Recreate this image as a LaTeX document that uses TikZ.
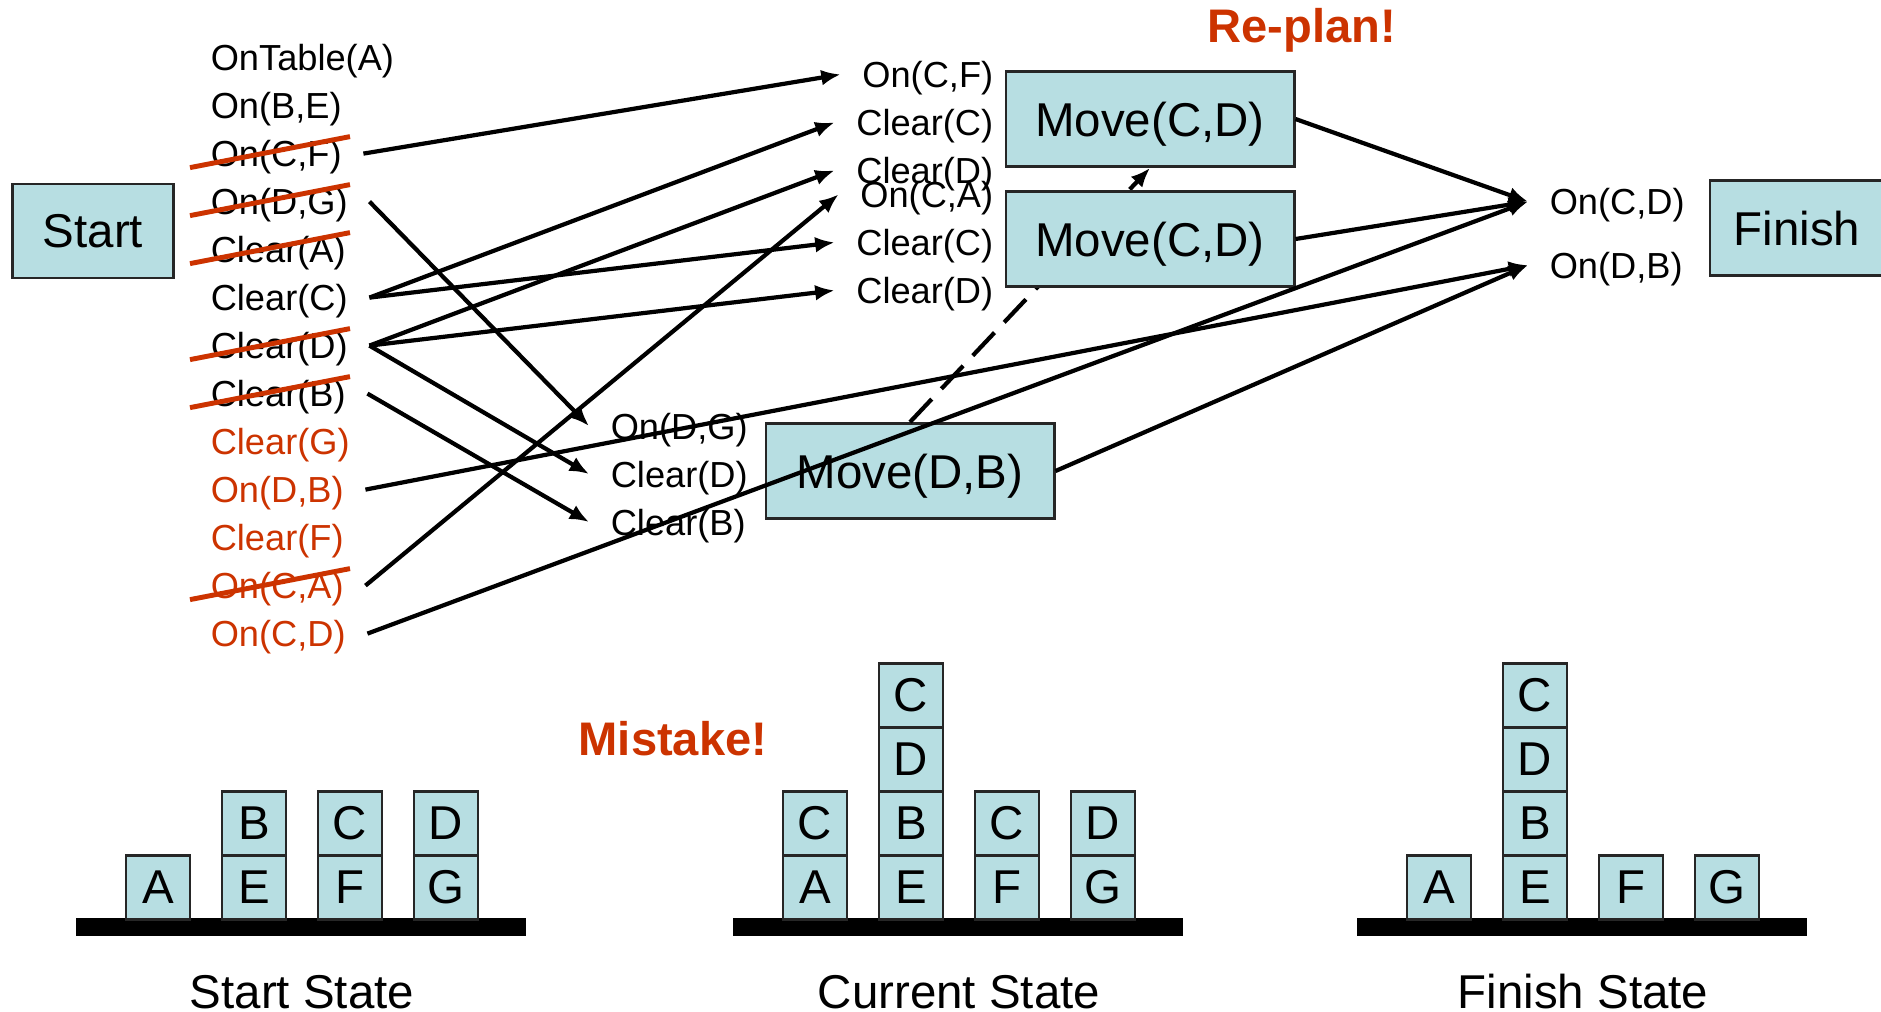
\documentclass[tikz,border=0pt]{standalone}
\usepackage{fontspec}
\setmainfont{Liberation Sans}
\usetikzlibrary{arrows.meta}
\definecolor{planred}{RGB}{204,51,0}
\definecolor{boxblue}{RGB}{183,222,226}

\begin{document}
\begin{tikzpicture}[x=0.01cm,y=-0.01cm,
    fact/.style={font=\fontsize{10.3}{12}\selectfont,inner xsep=6pt,inner ysep=2pt,text depth=0pt},
    action/.style={draw=black!85,line width=0.8pt,fill=boxblue,minimum width=2.88cm,minimum height=0.95cm,text depth=0pt,font=\fontsize{13.5}{16}\selectfont},
    link/.style={line width=1.2pt,-{Latex[length=5.5pt,width=4.5pt]}},
    strike/.style={draw=planred,line width=1.4pt},
    block/.style={draw=black!85,line width=0.8pt,fill=boxblue,minimum size=0.64cm,inner sep=0pt,font=\fontsize{13.5}{16}\selectfont},
    statename/.style={font=\fontsize{13.5}{16}\selectfont,inner sep=0pt,anchor=base},
    shout/.style={font=\fontsize{13.4}{16}\selectfont\bfseries,text=planred}]
                                    \useasboundingbox (0,0) rectangle (1881,1011);
                                    \def\xL{189};\def\xM{1015};\def\xB{589};\def\xR{1528};

% start and finish
                                    \node[action,minimum width=1.61cm,minimum height=0.94cm] (start) at (93,231) {Start};
                                    \node[action,minimum width=1.74cm] (finish) at (1797,228) {Finish};

% start facts
                                    \node[fact,anchor=west] (ontA) at (\xL,57.6) {OnTable(A)};
                                    \node[fact,anchor=west] (onBE) at (\xL,105.6) {On(B,E)};
                                    \node[fact,anchor=west] (onCF) at (\xL,153.6) {On(C,F)};
                                    \node[fact,anchor=west] (onDG) at (\xL,201.6) {On(D,G)};
                                    \node[fact,anchor=west] (clA) at (\xL,249.6) {Clear(A)};
                                    \node[fact,anchor=west] (clC) at (\xL,297.6) {Clear(C)};
                                    \node[fact,anchor=west] (clD) at (\xL,345.6) {Clear(D)};
                                    \node[fact,anchor=west] (clB) at (\xL,393.6) {Clear(B)};
                                    \node[fact,anchor=west,text=planred] (clG) at (\xL,441.6) {Clear(G)};
                                    \node[fact,anchor=west,text=planred] (onDB) at (\xL,489.6) {On(D,B)};
                                    \node[fact,anchor=west,text=planred] (clF) at (\xL,537.6) {Clear(F)};
                                    \node[fact,anchor=west,text=planred] (onCA) at (\xL,585.6) {On(C,A)};
                                    \node[fact,anchor=west,text=planred] (onCD) at (\xL,633.6) {On(C,D)};
                                    \foreach \n in {onCF,onDG,clA,clD,clB,onCA}
                                        \draw[strike] ([shift={(1,14)}]\n.west) -- ([shift={(161,-17)}]\n.west);

% preconditions
                                    \node[fact,anchor=east] (pcf) at (\xM,74.4) {On(C,F)};
                                    \node[fact,anchor=east] (pclc) at (\xM,122.4) {Clear(C)};
                                    \node[fact,anchor=east] (pcld) at (\xM,170.4) {Clear(D)};
                                    \node[fact,anchor=east] (qca) at (\xM,194.4) {On(C,A)};
                                    \node[fact,anchor=east] (qclc) at (\xM,242.4) {Clear(C)};
                                    \node[fact,anchor=east] (qcld) at (\xM,290.4) {Clear(D)};
                                    \node[fact,anchor=west] (rdg) at (\xB,426) {On(D,G)};
                                    \node[fact,anchor=west] (rcld) at (\xB,474) {Clear(D)};
                                    \node[fact,anchor=west] (rclb) at (\xB,522) {Clear(B)};
                                    \node[fact,anchor=west] (gcd) at (\xR,201.6) {On(C,D)};
                                    \node[fact,anchor=west] (gdb) at (\xR,265.2) {On(D,B)};

% actions
                                    \node[action] (mcd1) at (1150,119) {Move(C,D)};
                                    \node[action] (mdb) at (910,471) {Move(D,B)};
                                    \draw[link,dash pattern=on 9pt off 4pt] (mdb.north) -- (mcd1.south);
                                    \node[action] (mcd2) at (1150,239) {Move(C,D)};

% links
                                    \draw[link] (onCF.east) -- (pcf.west);
                                    \draw[link] (onDG.east) -- (rdg.west);
                                    \draw[link] (clC.east) -- (pclc.west);
                                    \draw[link] (clC.east) -- (qclc.west);
                                    \draw[link] (clD.east) -- (pcld.west);
                                    \draw[link] (clD.east) -- (qcld.west);
                                    \draw[link] (clD.east) -- (rcld.west);
                                    \draw[link] (clB.east) -- (rclb.west);
                                    \draw[link] (onDB.east) -- (gdb.west);
                                    \draw[link] (onCA.east) -- (qca.west);
                                    \draw[link] (onCD.east) -- (gcd.west);
                                    \draw[link] (mcd1.east) -- (gcd.west);
                                    \draw[link] (mcd2.east) -- (gcd.west);
                                    \draw[link] (mdb.east) -- (gdb.west);

                                    \node[shout] (replan) at (1302,30) {Re-plan!};
                                    \node[shout] (mistake) at (673,739) {Mistake!};

% start state
                                    \def\xs{76};
                                    \fill (\xs,918) rectangle (\xs+450,936);
                                    \foreach \c/\r/\l in {0/0/A,1/0/E,1/1/B,2/0/F,2/1/C,3/0/G,3/1/D}
                                        \node[block] (s-\c-\r) at ({\xs+82+96*\c},{887.5-64*\r}) {\l};
                                    \node[statename] (sstate) at (\xs+226,1008) {Start State};

% current state
                                    \def\xs{733};
                                    \fill (\xs,918) rectangle (\xs+450,936);
                                    \foreach \c/\r/\l in {0/0/A,0/1/C,1/0/E,1/1/B,1/2/D,1/3/C,2/0/F,2/1/C,3/0/G,3/1/D}
                                        \node[block] (c-\c-\r) at ({\xs+82+96*\c},{887.5-64*\r}) {\l};
                                    \node[statename] (cstate) at (\xs+226,1008) {Current State};

% finish state
                                    \def\xs{1357};
                                    \fill (\xs,918) rectangle (\xs+450,936);
                                    \foreach \c/\r/\l in {0/0/A,1/0/E,1/1/B,1/2/D,1/3/C,2/0/F,3/0/G}
                                        \node[block] (f-\c-\r) at ({\xs+82+96*\c},{887.5-64*\r}) {\l};
                                    \node[statename] (fstate) at (\xs+226,1008) {Finish State};

                                \end{tikzpicture}
\end{document}
